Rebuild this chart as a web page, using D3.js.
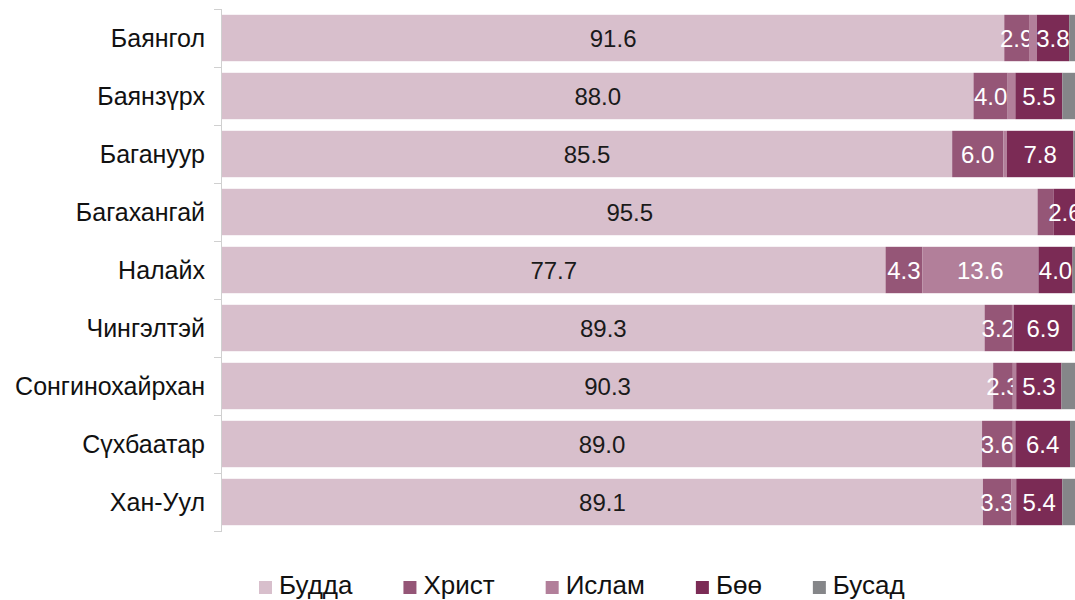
<!DOCTYPE html>
<html>
<head>
<meta charset="utf-8">
<script src="https://cdn.jsdelivr.net/npm/d3@7"></script>
<style>
  body { margin: 0; background: #fff; }
  svg { font-family: "Liberation Sans", Arial, sans-serif; }
</style>
</head>
<body>
<div id="chart"></div>
<script>
const districts = ["Баянгол", "Баянзүрх", "Багануур", "Багахангай", "Налайх", "Чингэлтэй", "Сонгинохайрхан", "Сүхбаатар", "Хан-Уул"];
const religions = ["Будда", "Христ", "Ислам", "Бөө", "Бусад"];
const buddha    = [91.6, 88.0, 85.5, 95.5, 77.7, 89.3, 90.3, 89.0, 89.1];
const christian = [2.9, 4.0, 6.0, 1.9, 4.3, 3.2, 2.3, 3.6, 3.3];
const islam     = [0.9, 0.9, 0.4, 0.0, 13.6, 0.2, 0.4, 0.3, 0.6];
const shaman    = [3.8, 5.5, 7.8, 2.6, 4.0, 6.9, 5.3, 6.4, 5.4];
const other     = [0.8, 1.6, 0.3, 0.0, 0.4, 0.4, 1.7, 0.7, 1.6];
const colors = ["#d8bfcc", "#955677", "#b27f9a", "#7b2b55", "#858689"];

function drawBars() {
  const container = d3.select("#chart");
  container.selectAll("*").remove();

  const width = 1075;
  const height = 600;
  const margin = { top: 9, right: -1, bottom: 69, left: 222 };

  const svg = container.append("svg")
    .attr("width", width)
    .attr("height", height);

  const table = districts.map((d, i) => ({
    district: d,
    "Будда": buddha[i],
    "Христ": christian[i],
    "Ислам": islam[i],
    "Бөө": shaman[i],
    "Бусад": other[i]
  }));

  const series = d3.stack().keys(religions)(table);

  const x = d3.scaleLinear()
    .domain([0, 100])
    .range([margin.left, width - margin.right]);

  const y = d3.scaleBand()
    .domain(districts)
    .range([margin.top, height - margin.bottom])
    .paddingInner(0.2)
    .paddingOuter(0.1);

  const color = d3.scaleOrdinal().domain(religions).range(colors);

  const groups = svg.append("g")
    .selectAll("g")
    .data(series)
    .join("g")
    .attr("fill", d => color(d.key));

  groups.selectAll("rect")
    .data(d => d)
    .join("rect")
    .attr("x", d => x(d[0]))
    .attr("y", d => y(d.data.district))
    .attr("width", d => x(d[1]) - x(d[0]))
    .attr("height", y.bandwidth());

  // value labels, only for segments of 2% or more
  groups.selectAll("text")
    .data(d => d.filter(p => p[1] - p[0] >= 2).map(p => ({ p, key: d.key })))
    .join("text")
    .attr("x", d => (x(d.p[0]) + x(d.p[1])) / 2)
    .attr("y", d => y(d.p.data.district) + y.bandwidth() / 2)
    .attr("dy", "0.36em")
    .attr("text-anchor", "middle")
    .attr("font-size", 24)
    .attr("fill", d => d.key === "Будда" ? "#1a1a1a" : "#ffffff")
    .text(d => d3.format(".1f")(d.p[1] - d.p[0]));

  // left axis with ticks at band boundaries
  const axis = svg.append("g");
  const top = margin.top, bottom = height - margin.bottom;
  axis.append("line")
    .attr("x1", margin.left - 0.5).attr("x2", margin.left - 0.5)
    .attr("y1", top).attr("y2", bottom)
    .attr("stroke", "#d0d0d0");
  const step = y.step();
  axis.selectAll(".tick")
    .data(d3.range(districts.length + 1))
    .join("line")
    .attr("x1", margin.left - 8).attr("x2", margin.left)
    .attr("y1", i => top + i * step + 0.5)
    .attr("y2", i => top + i * step + 0.5)
    .attr("stroke", "#d0d0d0");

  axis.selectAll("text")
    .data(districts)
    .join("text")
    .attr("x", 205)
    .attr("y", d => y(d) + y.bandwidth() / 2)
    .attr("dy", "0.36em")
    .attr("text-anchor", "end")
    .attr("font-size", 25)
    .attr("fill", "#111")
    .text(d => d);

  // legend
  const legend = svg.append("g").attr("transform", "translate(0,594)");
  let lx = 259;
  religions.forEach((r, i) => {
    legend.append("rect")
      .attr("x", lx).attr("y", -13)
      .attr("width", 13).attr("height", 13)
      .attr("fill", colors[i]);
    const t = legend.append("text")
      .attr("x", lx + 20)
      .attr("font-size", 26)
      .attr("fill", "#111")
      .text(r);
    lx += 20 + t.node().getComputedTextLength() + 51;
  });
}

drawBars();
</script>
</body>
</html>
